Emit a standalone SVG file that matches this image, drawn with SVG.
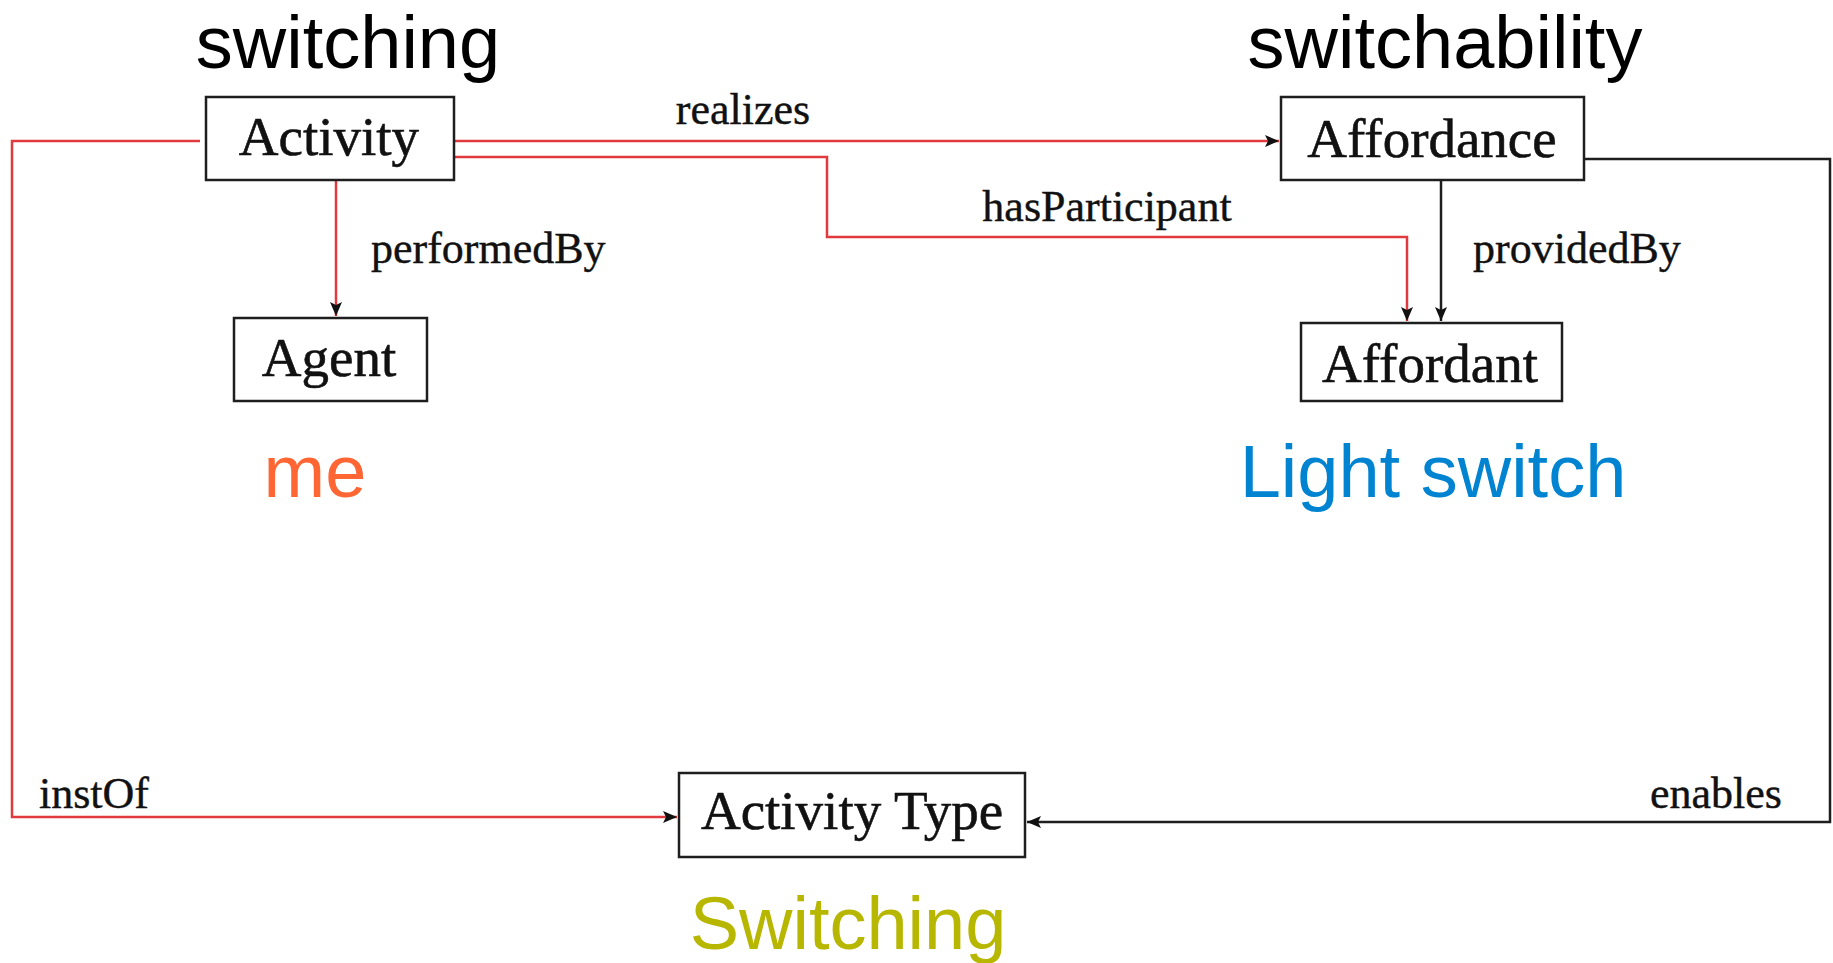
<svg xmlns="http://www.w3.org/2000/svg" width="1833" height="963" viewBox="0 0 1833 963">
  <style>
    .box { fill: #ffffff; stroke: #1e1e1e; stroke-width: 2.5; }
    .nodeText { font-family: "Liberation Serif", "Times New Roman", serif; font-size: 55px; fill: #111111; stroke: #111111; stroke-width: 0.6; text-anchor: middle; }
    .edgeText { font-family: "Liberation Serif", "Times New Roman", serif; font-size: 44px; fill: #111111; stroke: #111111; stroke-width: 0.4; }
    .big { font-family: "Liberation Sans", Arial, sans-serif; font-size: 74px; text-anchor: middle; }
    .red { fill: none; stroke: #e03a3e; stroke-width: 2.5; }
    .black { fill: none; stroke: #1e1e1e; stroke-width: 2.5; }
  </style>
  <defs>
    <marker id="arrow" viewBox="0 0 14 12" refX="14" refY="6" markerWidth="14" markerHeight="12" markerUnits="userSpaceOnUse" orient="auto">
      <path d="M0,0 L14,6 L0,12 L3,6 Z" fill="#111111"/>
    </marker>
  </defs>
  <rect width="1833" height="963" fill="#ffffff"/>

  <!-- headings -->
  <text class="big" x="348" y="68" fill="#000000">switching</text>
  <text class="big" x="1445" y="68" fill="#000000">switchability</text>

  <!-- connectors -->
  <g id="connectors">
    <path class="red" d="M454,141 H1279" marker-end="url(#arrow)"/>
    <path class="red" d="M454,157 H827 V237 H1407 V321" marker-end="url(#arrow)"/>
    <path class="red" d="M336,180 V316" marker-end="url(#arrow)"/>
    <path class="red" d="M200,141 H12 V817 H677" marker-end="url(#arrow)"/>
    <path class="black" d="M1441,180 V321" marker-end="url(#arrow)"/>
    <path class="black" d="M1584,159 H1830 V822 H1027" marker-end="url(#arrow)"/>
    <text class="edgeText" x="743" y="124" text-anchor="middle">realizes</text>
    <text class="edgeText" x="1107" y="221" text-anchor="middle">hasParticipant</text>
    <text class="edgeText" x="371" y="263">performedBy</text>
    <text class="edgeText" x="1473" y="263">providedBy</text>
    <text class="edgeText" x="39" y="808">instOf</text>
    <text class="edgeText" x="1716" y="808" text-anchor="middle">enables</text>
  </g>

  <!-- nodes -->
  <g id="activity">
    <rect class="box" x="206" y="97" width="248" height="83"/>
    <text class="nodeText" x="329" y="155">Activity</text>
  </g>
  <g id="agent">
    <rect class="box" x="234" y="318" width="193" height="83"/>
    <text class="nodeText" x="329" y="376">Agent</text>
  </g>
  <g id="affordance">
    <rect class="box" x="1281" y="97" width="303" height="83"/>
    <text class="nodeText" x="1432" y="157">Affordance</text>
  </g>
  <g id="affordant">
    <rect class="box" x="1301" y="323" width="261" height="78"/>
    <text class="nodeText" x="1430" y="382">Affordant</text>
  </g>
  <g id="activity-type">
    <rect class="box" x="679" y="773" width="346" height="84"/>
    <text class="nodeText" x="852" y="829">Activity Type</text>
  </g>

  <!-- instance labels -->
  <text class="big" x="315" y="497" fill="#ff6633">me</text>
  <text class="big" x="1433" y="497" fill="#0084d1">Light switch</text>
  <text class="big" x="848" y="949" fill="#b7b700">Switching</text>
</svg>
